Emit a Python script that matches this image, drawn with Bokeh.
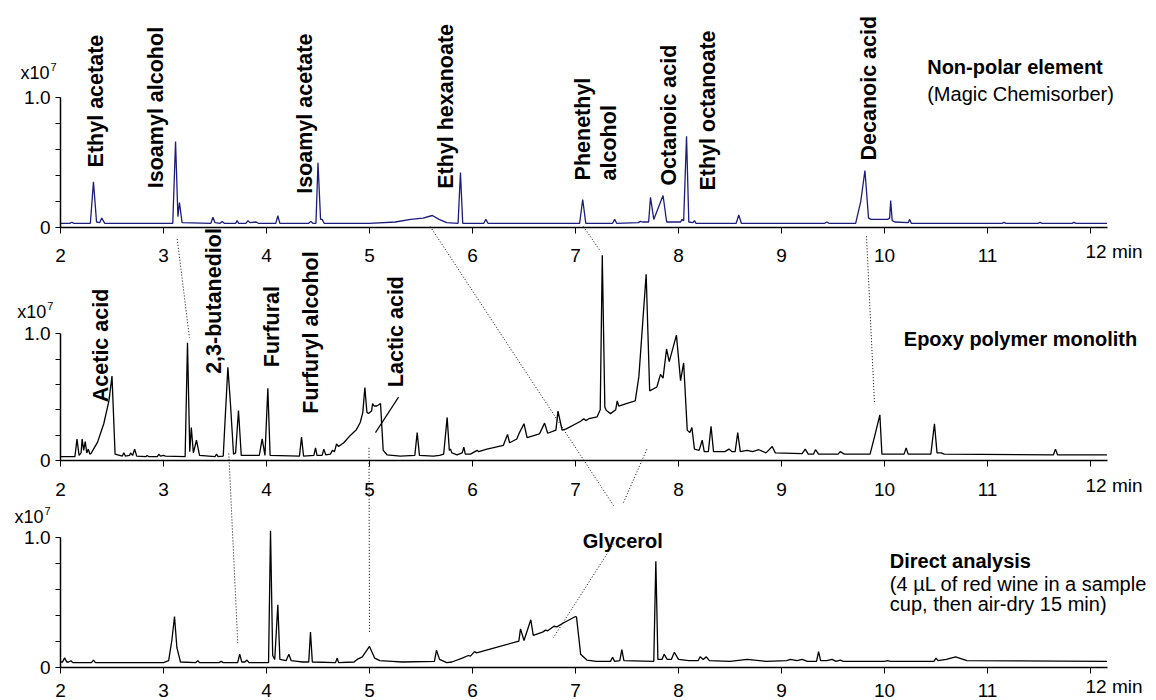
import math
from bokeh.plotting import figure
from bokeh.models import Range1d, LinearAxis, FixedTicker
from bokeh.core.properties import value
from bokeh.embed import file_html
from bokeh.resources import INLINE

# ---------------- data (retention time in min, intensity in x10^7) ----------------
TOP_T = [2.00, 2.09, 2.11, 2.13, 2.29, 2.32, 2.35, 2.38, 2.40, 2.43,
         3.09, 3.117, 3.14, 3.155, 3.18, 3.46, 3.48, 3.50, 3.55, 3.57, 3.59,
         3.70, 3.715, 3.73, 3.80, 3.82, 3.84, 3.90, 3.92, 4.09, 4.11, 4.13,
         4.41, 4.43, 4.45, 4.48, 4.50, 4.525, 4.54, 4.56,
         5.00, 5.25, 5.40, 5.52, 5.61, 5.675, 5.75, 5.86, 5.883, 5.905,
         6.11, 6.13, 6.15, 7.04, 7.07, 7.10, 7.36, 7.38, 7.40, 7.61, 7.63, 7.65,
         7.71, 7.728, 7.76, 7.85, 7.885, 8.02, 8.035, 8.05, 8.078, 8.10, 8.14, 8.155, 8.17,
         8.56, 8.585, 8.61, 9.42, 9.44, 9.46, 9.72, 9.77, 9.81, 9.845, 9.87,
         10.03, 10.05, 10.06, 10.075, 10.10, 10.23, 10.245, 10.26,
         11.14, 11.16, 11.18, 11.49, 11.51, 11.53, 11.82, 11.84, 11.86, 12.16]
TOP_V = [0.03, 0.03, 0.038, 0.03, 0.03, 0.35, 0.04, 0.035, 0.07, 0.03,
         0.03, 0.66, 0.08, 0.19, 0.035, 0.03, 0.077, 0.035, 0.03, 0.044, 0.03,
         0.03, 0.05, 0.03, 0.03, 0.05, 0.035, 0.04, 0.03, 0.03, 0.088, 0.03,
         0.03, 0.045, 0.03, 0.03, 0.495, 0.06, 0.06, 0.03,
         0.03, 0.04, 0.06, 0.07, 0.09, 0.06, 0.035, 0.03, 0.42, 0.03,
         0.03, 0.06, 0.03, 0.03, 0.213, 0.03, 0.03, 0.06, 0.03, 0.035, 0.045, 0.04,
         0.04, 0.23, 0.06, 0.244, 0.04, 0.04, 0.06, 0.05, 0.70, 0.04, 0.035, 0.05, 0.03,
         0.03, 0.095, 0.03, 0.03, 0.04, 0.03, 0.03, 0.20, 0.436, 0.07, 0.06,
         0.06, 0.07, 0.205, 0.05, 0.04, 0.035, 0.06, 0.03,
         0.03, 0.037, 0.03, 0.03, 0.037, 0.03, 0.03, 0.037, 0.03, 0.03]

MID_T = [2.00, 2.14, 2.16, 2.18, 2.20, 2.21, 2.225, 2.24, 2.255, 2.27, 2.285,
         2.30, 2.36, 2.42, 2.47, 2.50, 2.53, 2.60, 2.615, 2.63, 2.67, 2.68, 2.70, 2.72, 2.74,
         2.83, 2.84, 2.86, 2.94, 2.955, 2.97, 3.00, 3.02,
         3.21, 3.233, 3.255, 3.27, 3.29, 3.32, 3.35, 3.50, 3.515, 3.53,
         3.58, 3.60, 3.625, 3.65, 3.68, 3.70, 3.728, 3.755,
         3.93, 3.958, 3.985, 4.013, 4.035, 4.32, 4.34, 4.36,
         4.46, 4.476, 4.49, 4.54, 4.557, 4.575, 4.62, 4.64, 4.66, 4.68, 4.70,
         4.75, 4.816, 4.87, 4.91, 4.935, 4.955, 4.975, 4.99, 5.02, 5.03, 5.045, 5.07, 5.09, 5.107,
         5.133, 5.17, 5.30, 5.44, 5.463, 5.485,
         5.62, 5.68, 5.72, 5.754, 5.775, 5.786, 5.80, 5.85, 5.90, 5.916, 5.93, 5.98,
         6.045, 6.06, 6.14, 6.30, 6.34, 6.36, 6.43, 6.45, 6.50, 6.53, 6.65, 6.70, 6.73,
         6.81, 6.83, 6.87, 6.91, 7.05, 7.08, 7.10, 7.13, 7.21,
         7.24, 7.26, 7.285, 7.30, 7.34, 7.39, 7.405, 7.42, 7.50, 7.58, 7.615, 7.686, 7.72,
         7.79, 7.825, 7.85, 7.884, 7.91, 7.98, 8.02, 8.05, 8.085, 8.11, 8.13, 8.155,
         8.20, 8.23, 8.25, 8.29, 8.316, 8.34, 8.45, 8.49, 8.52, 8.55, 8.575, 8.60,
         8.667, 8.72, 8.78, 8.85, 8.91, 8.94,
         9.20, 9.23, 9.26, 9.31, 9.33, 9.36, 9.55, 9.57, 9.59, 9.61,
         9.86, 9.91, 9.955, 9.975, 10.19, 10.21, 10.23, 10.45, 10.485, 10.51, 10.55, 10.58,
         11.64, 11.66, 11.68, 12.16]
MID_V = [0.03, 0.03, 0.17, 0.04, 0.06, 0.17, 0.08, 0.15, 0.06, 0.09, 0.05,
         0.06, 0.145, 0.29, 0.47, 0.666, 0.05, 0.035, 0.06, 0.035, 0.04, 0.06, 0.04, 0.09, 0.035,
         0.03, 0.04, 0.03, 0.03, 0.05, 0.035, 0.04, 0.035,
         0.03, 0.93, 0.07, 0.26, 0.06, 0.16, 0.04, 0.03, 0.05, 0.03,
         0.035, 0.35, 0.736, 0.45, 0.05, 0.06, 0.395, 0.04,
         0.04, 0.17, 0.04, 0.57, 0.04, 0.035, 0.184, 0.035,
         0.04, 0.10, 0.04, 0.04, 0.09, 0.045, 0.05, 0.08, 0.07, 0.13, 0.11,
         0.14, 0.20, 0.24, 0.30, 0.38, 0.575, 0.38, 0.37, 0.39, 0.45, 0.43, 0.43, 0.44, 0.45,
         0.08, 0.045, 0.035, 0.04, 0.22, 0.04,
         0.035, 0.04, 0.05, 0.34, 0.08, 0.09, 0.06, 0.045, 0.06, 0.105, 0.05, 0.05,
         0.08, 0.07, 0.09, 0.12, 0.205, 0.14, 0.17, 0.21, 0.29, 0.18, 0.21, 0.295, 0.215,
         0.24, 0.39, 0.24, 0.25, 0.31, 0.33, 0.315, 0.33, 0.345,
         0.40, 1.62, 0.42, 0.395, 0.37, 0.40, 0.47, 0.43, 0.45, 0.47, 0.66, 1.47, 0.55,
         0.58, 0.68, 0.65, 0.88, 0.78, 0.99, 0.63, 0.77, 0.24, 0.22, 0.26, 0.09,
         0.08, 0.16, 0.07, 0.07, 0.27, 0.07, 0.07, 0.09, 0.07, 0.07, 0.22, 0.07,
         0.08, 0.07, 0.085, 0.06, 0.11, 0.06,
         0.055, 0.09, 0.05, 0.05, 0.085, 0.05, 0.05, 0.07, 0.06, 0.05,
         0.05, 0.21, 0.36, 0.05, 0.05, 0.10, 0.05, 0.05, 0.29, 0.06, 0.06, 0.05,
         0.045, 0.09, 0.045, 0.045]

BOT_T = [2.00, 2.02, 2.04, 2.06, 2.08, 2.10, 2.12, 2.30, 2.32, 2.34,
         3.00, 3.05, 3.08, 3.107, 3.13, 3.165, 3.31, 3.333, 3.35, 3.54, 3.56, 3.58,
         3.72, 3.74, 3.76, 3.79, 3.81, 3.83, 4.02, 4.039, 4.06, 4.08, 4.11, 4.13,
         4.19, 4.217, 4.24, 4.30, 4.35, 4.41, 4.427, 4.445, 4.67, 4.686, 4.70,
         4.85, 4.88, 4.93, 5.00, 5.05, 5.10, 5.22, 5.317, 5.63, 5.65, 5.68, 5.75,
         5.80, 5.90, 5.96, 5.98, 6.02, 6.04, 6.24, 6.45, 6.466, 6.50, 6.566, 6.59,
         6.68, 6.71, 6.73, 6.79, 6.82, 6.86, 7.00, 7.01, 7.05, 7.11, 7.20,
         7.34, 7.36, 7.38, 7.43, 7.45, 7.47, 7.76, 7.78, 7.80, 7.84, 7.86, 7.89,
         7.93, 7.96, 8.00, 8.10, 8.19, 8.21, 8.24, 8.27, 8.30, 8.50, 8.667, 8.85,
         9.05, 9.087, 9.15, 9.20, 9.25, 9.34, 9.36, 9.38, 9.44, 9.49, 9.53, 9.57, 9.60,
         10.00, 10.03, 10.06, 10.48, 10.50, 10.52, 10.60, 10.69, 10.80, 12.16]
BOT_V = [0.04, 0.04, 0.072, 0.04, 0.04, 0.05, 0.035, 0.035, 0.055, 0.035,
         0.035, 0.05, 0.20, 0.39, 0.15, 0.04, 0.035, 0.05, 0.035, 0.035, 0.045, 0.035,
         0.035, 0.10, 0.04, 0.04, 0.055, 0.035, 0.035, 1.05, 0.09, 0.06, 0.48, 0.06,
         0.05, 0.10, 0.05, 0.045, 0.04, 0.04, 0.27, 0.04, 0.035, 0.07, 0.035,
         0.04, 0.06, 0.08, 0.16, 0.07, 0.05, 0.045, 0.04, 0.045, 0.13, 0.06, 0.035,
         0.04, 0.07, 0.09, 0.085, 0.12, 0.11, 0.155, 0.20, 0.295, 0.205, 0.365, 0.245,
         0.27, 0.285, 0.28, 0.315, 0.31, 0.33, 0.39, 0.385, 0.10, 0.055, 0.045,
         0.045, 0.077, 0.045, 0.05, 0.136, 0.05, 0.045, 0.815, 0.06, 0.06, 0.10, 0.06,
         0.06, 0.115, 0.06, 0.05, 0.05, 0.08, 0.06, 0.08, 0.05, 0.045, 0.06, 0.045,
         0.05, 0.06, 0.05, 0.06, 0.045, 0.045, 0.12, 0.05, 0.05, 0.06, 0.045, 0.055, 0.045,
         0.045, 0.05, 0.045, 0.045, 0.07, 0.05, 0.06, 0.08, 0.05, 0.045]

X_TICKS = [2, 3, 4, 5, 6, 7, 8, 9, 10, 11, 12]
Y_TICKS = [0, 0.2, 0.4, 0.6, 0.8, 1.0]
Y_TICK_LABELS = {0: "0", 0.2: "", 0.4: "", 0.6: "", 0.8: "", 1.0: "1.0"}

TOP_NAMES = ["Ethyl acetate", "Isoamyl alcohol", "Isoamyl acetate", "Ethyl hexanoate",
             "Phenethyl", "alcohol", "Octanoic acid", "Ethyl octanoate", "Decanoic acid"]
TOP_NAME_T = [2.343, 2.925, 4.369, 5.741, 7.068, 7.323, 7.91, 8.291, 9.845]
TOP_NAME_V = [0.46, 0.30, 0.257, 0.295, 0.36, 0.36, 0.32, 0.282, 0.513]

MID_NAMES = ["Acetic acid", "2,3-butanediol", "Furfural", "Furfuryl alcohol", "Lactic acid"]
MID_NAME_T = [2.396, 3.495, 4.055, 4.432, 5.262]
MID_NAME_V = [0.46, 0.684, 0.736, 0.369, 0.579]

# dotted links between the same compound in two traces: ((panel, t, v), (panel, t, v))
LINKS = [(("p1", 3.133, -0.09), ("p2", 3.252, 0.97)),
         (("p2", 3.634, 0.055), ("p3", 3.721, 0.185)),
         (("p2", 4.995, 0.10), ("p3", 5.0, 0.27)),
         (("p1", 5.59, 0.005), ("p3", 7.369, 1.244)),
         (("p1", 7.078, 0.005), ("p2", 7.243, 1.65)),
         (("p3", 7.369, 0.95), ("p3", 6.786, 0.228)),
         (("p3", 7.466, 1.267), ("p2", 7.699, 0.10)),
         (("p1", 9.825, -0.07), ("p2", 9.903, 0.45))]
LEADER = (("p2", 5.058, 0.22), ("p2", 5.282, 0.50))

# ---------------- layout ----------------
W, H = 1156, 700
PX_PER_MIN = 103.0
X2_PX = 60.0          # canvas x of t = 2 min
FONT = "Liberation Sans"
NAVY = "#1c1c7c"

def t_of(px):
    return 2 + (px - X2_PX) / PX_PER_MIN

# panel: (canvas y of zero, pixels per 1.0)
PANELS = {"p1": (226.7, 130.0), "p2": (460.0, 126.7), "p3": (666.7, 130.0)}
STANDOFF = {"p1": 16, "p2": 16, "p3": 11}

def gy(k, v):
    z, s = PANELS[k]
    return z - v * s

p = figure(width=W, height=H, x_range=Range1d(t_of(0), t_of(W)), y_range=Range1d(H, 0),
           x_axis_type=None, y_axis_type=None, toolbar_location=None,
           output_backend="svg", min_border=0)
p.outline_line_color = None
p.background_fill_color = "white"
p.border_fill_color = "white"
p.extra_y_ranges = {k: Range1d((z - H) / s, z / s) for k, (z, s) in PANELS.items()}

# traces
p.line(TOP_T, TOP_V, y_range_name="p1", line_color=NAVY, line_width=1.3)
p.line(MID_T, MID_V, y_range_name="p2", line_color="black", line_width=1.3)
p.line(BOT_T, BOT_V, y_range_name="p3", line_color="black", line_width=1.3)

# axes
for k in PANELS:
    xa = LinearAxis(y_range_name=k, fixed_location=0, bounds=(2, 12.165),
                    ticker=FixedTicker(ticks=X_TICKS), major_label_overrides={12: ""})
    xa.axis_line_width = 1.5
    xa.major_tick_out = 6
    xa.major_tick_in = 0
    xa.minor_tick_line_color = None
    xa.major_label_standoff = STANDOFF[k]
    xa.major_label_text_font = FONT
    xa.major_label_text_font_size = "19px"
    xa.major_label_text_color = "black"
    p.add_layout(xa, "below")

    ya = LinearAxis(y_range_name=k, fixed_location=2, bounds=(0, 1),
                    ticker=FixedTicker(ticks=Y_TICKS), major_label_overrides=Y_TICK_LABELS)
    ya.axis_line_width = 1.5
    ya.major_tick_out = 5
    ya.major_tick_in = 0
    ya.minor_tick_line_color = None
    ya.major_label_standoff = 5
    ya.major_label_text_font = FONT
    ya.major_label_text_font_size = "19px"
    ya.major_label_text_color = "black"
    p.add_layout(ya, "left")

# "12 min" labels
p.text(x=[t_of(1085)] * 3, y=[gy(k, 0) + STANDOFF[k] - 2 for k in PANELS], text=["12 min"] * 3,
       text_font=value(FONT), text_font_size="19px", text_align="left",
       text_baseline="top", text_color="black")

# x10^7 labels
p.text(x=[t_of(20), t_of(16.7), t_of(14)], y=[72.3, 311.7, 516.7], text=["x10"] * 3,
       text_font=value(FONT), text_font_size="18px", text_align="left",
       text_baseline="alphabetic", text_color="black")
p.text(x=[t_of(50), t_of(46.7), t_of(44)], y=[66.7, 305.7, 510.7], text=["7"] * 3,
       text_font=value(FONT), text_font_size="11px", text_align="left",
       text_baseline="alphabetic", text_color="black")

# compound names (vertical)
p.text(x=TOP_NAME_T, y=TOP_NAME_V, text=TOP_NAMES, angle=math.pi / 2, y_range_name="p1",
       text_font=value(FONT), text_font_size="21.5px", text_font_style="bold",
       text_align="left", text_baseline="middle", text_color="black")
p.text(x=MID_NAME_T, y=MID_NAME_V, text=MID_NAMES, angle=math.pi / 2, y_range_name="p2",
       text_font=value(FONT), text_font_size="21.5px", text_font_style="bold",
       text_align="left", text_baseline="middle", text_color="black")

# horizontal texts
def htext(texts, xs_px, ys_px, bold):
    p.text(x=[t_of(v) for v in xs_px], y=ys_px, text=texts,
           text_font=value(FONT), text_font_size="20px",
           text_font_style="bold" if bold else "normal",
           text_align="left", text_baseline="alphabetic", text_color="black")

htext(["Non-polar element", "Epoxy polymer monolith", "Direct analysis", "Glycerol"],
      [926.7, 903.3, 889.3, 582.3], [66.0, 338.3, 560.0, 540.0], True)
htext(["(Magic Chemisorber)", "(4 \u00b5L of red wine in a sample", "cup, then air-dry 15 min)"],
      [926.7, 889.3, 889.3], [93.3, 583.3, 603.3], False)

# dotted links
p.segment(x0=[a[1] for a, b in LINKS], y0=[gy(a[0], a[2]) for a, b in LINKS],
          x1=[b[1] for a, b in LINKS], y1=[gy(b[0], b[2]) for a, b in LINKS],
          line_color="black", line_width=1, line_dash="1 2")
a, b = LEADER
p.segment(x0=[a[1]], y0=[gy(a[0], a[2])], x1=[b[1]], y1=[gy(b[0], b[2])],
          line_color="black", line_width=1.2)

open("out.html", "w").write(file_html(p, INLINE))
